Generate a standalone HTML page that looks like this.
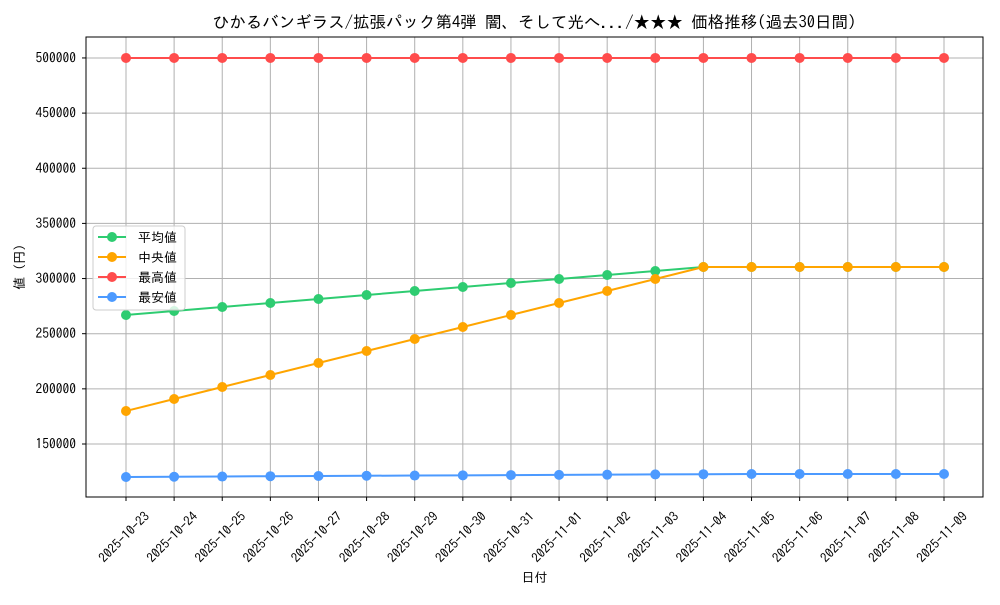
<!DOCTYPE html>
<html><head><meta charset="utf-8">
<style>
body{margin:0;background:#fff;}
svg text{font-family:"IPAGothic","Liberation Sans","Noto Sans CJK JP",sans-serif;fill:#000;}
</style></head>
<body>
<svg id="chart" width="1000" height="600" xmlns="http://www.w3.org/2000/svg"></svg>
<script>
const categories=["2025-10-23","2025-10-24","2025-10-25","2025-10-26","2025-10-27","2025-10-28","2025-10-29","2025-10-30","2025-10-31","2025-11-01","2025-11-02","2025-11-03","2025-11-04","2025-11-05","2025-11-06","2025-11-07","2025-11-08","2025-11-09"];
const avgValues=[266950,270580,274200,277830,281460,285090,288720,292340,295970,299600,303230,306850,310480,310480,310480,310480,310480,310480];
const medianValues=[179900,190780,201660,212550,223430,234310,245190,256070,266950,277830,288720,299600,310480,310480,310480,310480,310480,310480];
const maxValues=[500000,500000,500000,500000,500000,500000,500000,500000,500000,500000,500000,500000,500000,500000,500000,500000,500000,500000];
const minValues=[120050,120300,120500,120800,121000,121200,121400,121600,121800,122000,122200,122400,122600,122770,122770,122770,122770,122770];
const yTicks=[150000,200000,250000,300000,350000,400000,450000,500000];
const seriesNames=["平均値","中央値","最高値","最安値"];

const NS="http://www.w3.org/2000/svg";
const svg=document.getElementById('chart');
const L=86,R=983,T=37,B=497;
const yMin=101940,yMax=519000;
function x(i){return 126+i*(944-126)/(categories.length-1);}
function y(v){return B-(v-yMin)/(yMax-yMin)*(B-T);}
function mk(tag,attrs,parent){const e=document.createElementNS(NS,tag);for(const k in attrs)e.setAttribute(k,attrs[k]);(parent||svg).appendChild(e);return e;}

const grid=mk('g',{});


categories.forEach((c,i)=>{mk('line',{x1:x(i),x2:x(i),y1:T,y2:B,stroke:'#b0b0b0','stroke-width':1},grid);});
yTicks.forEach(v=>{mk('line',{x1:L,x2:R,y1:y(v),y2:y(v),stroke:'#b0b0b0','stroke-width':1},grid);});

const xt=mk('g',{});


categories.forEach((c,i)=>{
  mk('line',{x1:x(i),x2:x(i),y1:B,y2:B+4,stroke:'#000'},xt);
  const ax=x(i)-2, ay=537;
  const t=mk('text',{x:ax,y:ay,dy:'0.35em','font-size':13,'text-anchor':'middle',transform:`rotate(-45 ${ax} ${ay})`},xt);
  t.textContent=c;
});
const yt=mk('g',{});


yTicks.forEach(v=>{
  mk('line',{x1:L-4,x2:L,y1:y(v),y2:y(v),stroke:'#000'},yt);
  const t=mk('text',{x:L-10,y:y(v)+4.5,'font-size':13.5,'text-anchor':'end'},yt);
  t.textContent=v;
});

const colors=["#2ecc71","#ffa500","#ff4c4c","#4c9aff"];
const data=[avgValues,medianValues,maxValues,minValues];
const keys=["avg","median","max","min"];
data.forEach((arr,si)=>{
  const g=mk('g',{});
  
  
  mk('polyline',{points:arr.map((v,i)=>x(i)+','+y(v)).join(' '),fill:'none',stroke:colors[si],'stroke-width':2},g);
  arr.forEach((v,i)=>{
    const c=mk('circle',{cx:x(i),cy:y(v),r:5,fill:colors[si]},g);
    
    
  });
});

const frame=mk('rect',{x:L,y:T,width:R-L,height:B-T,fill:'none',stroke:'#000','stroke-width':1});



const title=mk('text',{x:(L+R)/2,y:28,'font-size':16.5,'text-anchor':'middle'});


title.textContent='ひかるバンギラス/拡張パック第4弾 闇、そして光へ.../★★★ 価格推移(過去30日間)';
const xl=mk('text',{x:(L+R)/2,y:582,'font-size':13,'text-anchor':'middle'});


xl.textContent='日付';
const yl=mk('text',{x:24,y:267,'font-size':13,'text-anchor':'middle',transform:'rotate(-90 24 267)'});


yl.textContent='値 (円)';

const lg=mk('g',{});


mk('rect',{x:93,y:226,width:92,height:84,rx:3,fill:'#fff','fill-opacity':0.8,stroke:'#ccc'},lg);
seriesNames.forEach((n,i)=>{
  const ey=237+i*20;
  const e=mk('g',{},lg);
  
  
  mk('line',{x1:98,x2:126,y1:ey,y2:ey,stroke:colors[i],'stroke-width':2},e);
  mk('circle',{cx:112,cy:ey,r:5,fill:colors[i]},e);
  const t=mk('text',{x:138,y:ey+5,'font-size':13},e);
  t.textContent=n;
});
</script>
</body></html>
